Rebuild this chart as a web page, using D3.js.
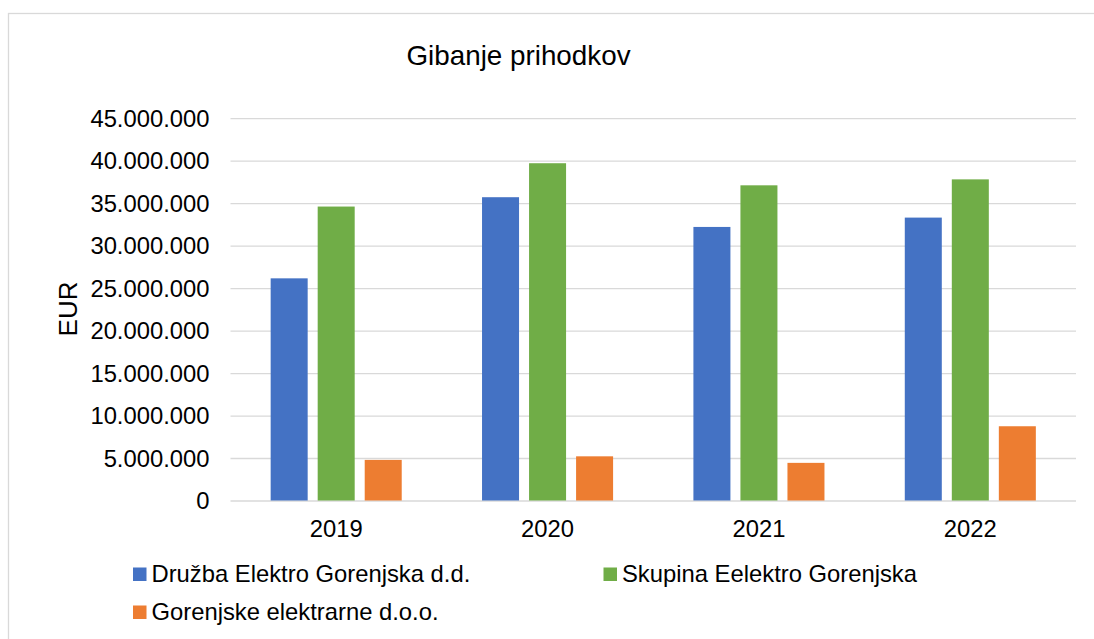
<!DOCTYPE html>
<html>
<head>
<meta charset="utf-8">
<script src="https://cdn.jsdelivr.net/npm/d3@7"></script>
<style>
  html, body { margin: 0; padding: 0; background: #ffffff; }
  svg { display: block; font-family: "Liberation Sans", Arial, sans-serif; }
</style>
</head>
<body>
<svg id="chart" width="1094" height="639"></svg>
<script>
const categories = ["2019", "2020", "2021", "2022"];
const seriesNames = ["Družba Elektro Gorenjska d.d.", "Skupina Eelektro Gorenjska", "Gorenjske elektrarne d.o.o."];
const druzbaValues = [26150000, 35700000, 32200000, 33300000];
const skupinaValues = [34600000, 39700000, 37100000, 37800000];
const elektrarneValues = [4780000, 5200000, 4430000, 8740000];
const yTicks = [0, 5000000, 10000000, 15000000, 20000000, 25000000, 30000000, 35000000, 40000000, 45000000];
const seriesColors = ["#4472C4", "#70AD47", "#ED7D31"];
const titleText = "Gibanje prihodkov";
const yAxisTitle = "EUR";

const seriesValues = [druzbaValues, skupinaValues, elektrarneValues];

const svg = d3.select("#chart");
const W = 1094, H = 639;

// outer chart border (only top/left visible)
svg.append("rect").attr("x", 8.5).attr("y", 13.5).attr("width", W).attr("height", H)
  .attr("fill", "#ffffff").attr("stroke", "#d9d9d9").attr("stroke-width", 1.3);

const plot = { left: 230.5, right: 1076, top: 118.2, bottom: 500.5 };

const locale = d3.formatLocale({ decimal: ",", thousands: ".", grouping: [3], currency: ["", " €"] });
const fmt = locale.format(",d");

const y = d3.scaleLinear().domain([0, 45000000]).range([plot.bottom, plot.top]);
const x0 = d3.scaleBand().domain(categories).range([plot.left, plot.right])
  .paddingInner(0.38).paddingOuter(0.19);
const x1 = d3.scaleBand().domain(d3.range(seriesNames.length)).range([0, x0.bandwidth()])
  .paddingInner(0.213).paddingOuter(0);

// gridlines
const yAxis = d3.axisLeft(y).tickValues(yTicks).tickFormat(fmt)
  .tickSize(-(plot.right - plot.left)).tickPadding(21);
const gy = svg.append("g").attr("transform", `translate(${plot.left},0)`).call(yAxis);
gy.select(".domain").remove();
gy.selectAll(".tick line").attr("stroke", "#d9d9d9").attr("stroke-width", 1.3);
gy.selectAll(".tick text").attr("fill", "#000").attr("font-size", "23.8px")
  .attr("font-family", '"Liberation Sans", Arial, sans-serif').attr("dy", "0.34em");

// bars
const groups = svg.append("g").selectAll("g").data(categories).join("g")
  .attr("transform", d => `translate(${x0(d)},0)`);
groups.selectAll("rect")
  .data((c, ci) => seriesValues.map((vals, si) => ({ si, v: vals[ci] })))
  .join("rect")
  .attr("x", d => x1(d.si))
  .attr("width", x1.bandwidth())
  .attr("y", d => y(d.v))
  .attr("height", d => y(0) - y(d.v))
  .attr("fill", d => seriesColors[d.si]);

// x axis labels
const xAxis = d3.axisBottom(x0).tickSize(0).tickPadding(0);
const gx = svg.append("g").attr("transform", `translate(0,${plot.bottom})`).call(xAxis);
gx.select(".domain").remove();
gx.selectAll(".tick text").attr("fill", "#000").attr("font-size", "23.8px")
  .attr("font-family", '"Liberation Sans", Arial, sans-serif')
  .attr("dy", null).attr("y", 36.5);

// title
svg.append("text").attr("x", 518.5).attr("y", 65).attr("text-anchor", "middle")
  .attr("font-size", "27.8px").attr("fill", "#000").text(titleText);

// y axis title
svg.append("text").attr("transform", `translate(77,309) rotate(-90)`)
  .attr("text-anchor", "middle").attr("font-size", "26px").attr("fill", "#000").text(yAxisTitle);

// legend
const legendPos = [{ x: 133, y: 582 }, { x: 603.5, y: 582 }, { x: 133, y: 620 }];
const leg = svg.append("g").selectAll("g").data(seriesNames).join("g")
  .attr("transform", (d, i) => `translate(${legendPos[i].x},${legendPos[i].y})`);
leg.append("rect").attr("x", 0).attr("y", -14.5).attr("width", 13.5).attr("height", 13.5)
  .attr("fill", (d, i) => seriesColors[i]);
leg.append("text").attr("x", 18.5).attr("y", 0).attr("font-size", "23.8px").attr("fill", "#000")
  .text(d => d);
</script>
</body>
</html>
